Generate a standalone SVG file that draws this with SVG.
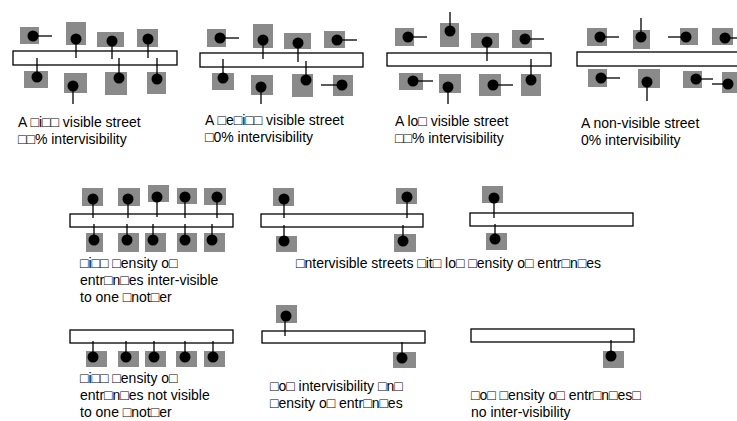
<svg xmlns="http://www.w3.org/2000/svg" width="737" height="421" viewBox="0 0 737 421">
<style>
.street{fill:#fff;stroke:#000;stroke-width:1.3}
.ent{fill:#8a8a8a}
.dot{fill:#000}
.conn line{stroke:#000;stroke-width:1.3}
text{font-family:"Liberation Sans",Arial,sans-serif;font-size:14px;fill:#000}
</style>
<rect width="737" height="421" fill="#fff"/>

<!-- Panel 1 -->
<g id="p1-street"><rect class="street" x="13" y="51" width="164" height="14"/></g>
<g id="p1-t1"><rect class="ent" x="20" y="27" width="19" height="17"/><circle class="dot" cx="33" cy="36" r="5.5"/></g>
<g id="p1-t2"><rect class="ent" x="66" y="22" width="20" height="23"/><circle class="dot" cx="76" cy="39" r="5.5"/></g>
<g id="p1-t3"><rect class="ent" x="97" y="32" width="27" height="15"/><circle class="dot" cx="112" cy="41" r="5.5"/></g>
<g id="p1-t4"><rect class="ent" x="137" y="29" width="21" height="18"/><circle class="dot" cx="148" cy="39" r="5.5"/></g>
<g id="p1-b1"><rect class="ent" x="24" y="71" width="24" height="17"/><circle class="dot" cx="37" cy="77" r="5.5"/></g>
<g id="p1-b2"><rect class="ent" x="64" y="73" width="23" height="20"/><circle class="dot" cx="73" cy="86" r="5.5"/></g>
<g id="p1-b3"><rect class="ent" x="105" y="72" width="22" height="23"/><circle class="dot" cx="119" cy="78" r="5.5"/></g>
<g id="p1-b4"><rect class="ent" x="147" y="72" width="19" height="22"/><circle class="dot" cx="157" cy="79" r="5.5"/></g>

<!-- Panel 2 -->
<g id="p2-street"><rect class="street" x="200" y="53" width="163" height="14"/></g>
<g id="p2-t1"><rect class="ent" x="207" y="29" width="19" height="18"/><circle class="dot" cx="220" cy="38" r="5.5"/></g>
<g id="p2-t2"><rect class="ent" x="253" y="24" width="20" height="24"/><circle class="dot" cx="263" cy="40" r="5.5"/></g>
<g id="p2-t3"><rect class="ent" x="284" y="33" width="27" height="16"/><circle class="dot" cx="298" cy="43" r="5.5"/></g>
<g id="p2-t4"><rect class="ent" x="324" y="31" width="21" height="17"/><circle class="dot" cx="337" cy="40" r="5.5"/></g>
<g id="p2-b1"><rect class="ent" x="212" y="73" width="22" height="17"/><circle class="dot" cx="223" cy="78" r="5.5"/></g>
<g id="p2-b2"><rect class="ent" x="251" y="75" width="22" height="20"/><circle class="dot" cx="261" cy="87" r="5.5"/></g>
<g id="p2-b3"><rect class="ent" x="292" y="74" width="21" height="23"/><circle class="dot" cx="306" cy="80" r="5.5"/></g>
<g id="p2-b4"><rect class="ent" x="333" y="75" width="20" height="21"/><circle class="dot" cx="342" cy="85" r="5.5"/></g>

<!-- Panel 3 -->
<g id="p3-street"><rect class="street" x="387" y="53" width="164" height="13"/></g>
<g id="p3-t1"><rect class="ent" x="395" y="28" width="19" height="18"/><circle class="dot" cx="408" cy="37" r="5.5"/></g>
<g id="p3-t2"><rect class="ent" x="440" y="23" width="19" height="24"/><circle class="dot" cx="450" cy="31" r="5.5"/></g>
<g id="p3-t3"><rect class="ent" x="471" y="33" width="28" height="15"/><circle class="dot" cx="487" cy="42" r="5.5"/></g>
<g id="p3-t4"><rect class="ent" x="512" y="30" width="20" height="18"/><circle class="dot" cx="525" cy="39" r="5.5"/></g>
<g id="p3-b1"><rect class="ent" x="399" y="73" width="24" height="17"/><circle class="dot" cx="413" cy="81" r="5.5"/></g>
<g id="p3-b2"><rect class="ent" x="439" y="74" width="22" height="19"/><circle class="dot" cx="448" cy="87" r="5.5"/></g>
<g id="p3-b3"><rect class="ent" x="479" y="74" width="22" height="22"/><circle class="dot" cx="493" cy="85" r="5.5"/></g>
<g id="p3-b4"><rect class="ent" x="521" y="74" width="20" height="22"/><circle class="dot" cx="531" cy="80" r="5.5"/></g>

<!-- Panel 4 -->
<g id="p4-street"><rect class="street" x="577" y="52" width="170" height="14"/></g>
<g id="p4-t1"><rect class="ent" x="587" y="28" width="20" height="18"/><circle class="dot" cx="600" cy="37" r="5.5"/></g>
<g id="p4-t2"><rect class="ent" x="633" y="30" width="17" height="19"/><circle class="dot" cx="641" cy="37" r="5.5"/></g>
<g id="p4-t3"><rect class="ent" x="680" y="28" width="18" height="17"/><circle class="dot" cx="686" cy="37" r="5.5"/></g>
<g id="p4-t4"><rect class="ent" x="712" y="28" width="21" height="17"/><circle class="dot" cx="725" cy="38" r="5.5"/></g>
<g id="p4-b1"><rect class="ent" x="588" y="69" width="19" height="18"/><circle class="dot" cx="601" cy="78" r="5.5"/></g>
<g id="p4-b2"><rect class="ent" x="638" y="69" width="22" height="19"/><circle class="dot" cx="647" cy="82" r="5.5"/></g>
<g id="p4-b3"><rect class="ent" x="683" y="71" width="19" height="17"/><circle class="dot" cx="696" cy="79" r="5.5"/></g>
<g id="p4-b4"><rect class="ent" x="722" y="72" width="18" height="21"/><circle class="dot" cx="728" cy="84" r="5.5"/></g>

<!-- Panel 5: high density inter-visible -->
<g id="p5-street"><rect class="street" x="70" y="214" width="163" height="13"/></g>
<g id="p5-t1"><rect class="ent" x="82" y="188" width="21" height="18"/><circle class="dot" cx="93" cy="199" r="5.5"/></g>
<g id="p5-t2"><rect class="ent" x="118" y="188" width="22" height="18"/><circle class="dot" cx="128" cy="199" r="5.5"/></g>
<g id="p5-t3"><rect class="ent" x="148" y="185" width="21" height="17"/><circle class="dot" cx="157" cy="197" r="5.5"/></g>
<g id="p5-t4"><rect class="ent" x="177" y="188" width="20" height="16"/><circle class="dot" cx="185" cy="197" r="5.5"/></g>
<g id="p5-t5"><rect class="ent" x="204" y="188" width="22" height="17"/><circle class="dot" cx="217" cy="197" r="5.5"/></g>
<g id="p5-b1"><rect class="ent" x="86" y="233" width="17" height="19"/><circle class="dot" cx="94" cy="240" r="5.5"/></g>
<g id="p5-b2"><rect class="ent" x="118" y="233" width="21" height="19"/><circle class="dot" cx="127" cy="240" r="5.5"/></g>
<g id="p5-b3"><rect class="ent" x="145" y="233" width="21" height="19"/><circle class="dot" cx="153" cy="240" r="5.5"/></g>
<g id="p5-b4"><rect class="ent" x="177" y="233" width="20" height="19"/><circle class="dot" cx="185" cy="240" r="5.5"/></g>
<g id="p5-b5"><rect class="ent" x="204" y="233" width="21" height="19"/><circle class="dot" cx="212" cy="240" r="5.5"/></g>

<!-- Panel 6 -->
<g id="p6-street"><rect class="street" x="261" y="214" width="162" height="13"/></g>
<g id="p6-t1"><rect class="ent" x="273" y="188" width="21" height="18"/><circle class="dot" cx="284" cy="199" r="5.5"/></g>
<g id="p6-t2"><rect class="ent" x="396" y="188" width="21" height="16"/><circle class="dot" cx="407" cy="197" r="5.5"/></g>
<g id="p6-b1"><rect class="ent" x="276" y="236" width="21" height="16"/><circle class="dot" cx="284" cy="241" r="5.5"/></g>
<g id="p6-b2"><rect class="ent" x="394" y="234" width="22" height="18"/><circle class="dot" cx="403" cy="241" r="5.5"/></g>

<!-- Panel 7 -->
<g id="p7-street"><rect class="street" x="470" y="213" width="163" height="13"/></g>
<g id="p7-t1"><rect class="ent" x="482" y="186" width="21" height="17"/><circle class="dot" cx="494" cy="198" r="5.5"/></g>
<g id="p7-b1"><rect class="ent" x="486" y="233" width="21" height="17"/><circle class="dot" cx="495" cy="239" r="5.5"/></g>

<!-- Panel 8 -->
<g id="p8-street"><rect class="street" x="70" y="330" width="163" height="13"/></g>
<g id="p8-b1"><rect class="ent" x="86" y="351" width="21" height="16"/><circle class="dot" cx="93" cy="357" r="5.5"/></g>
<g id="p8-b2"><rect class="ent" x="118" y="351" width="21" height="16"/><circle class="dot" cx="126" cy="357" r="5.5"/></g>
<g id="p8-b3"><rect class="ent" x="145" y="351" width="21" height="16"/><circle class="dot" cx="154" cy="357" r="5.5"/></g>
<g id="p8-b4"><rect class="ent" x="176" y="351" width="21" height="16"/><circle class="dot" cx="185" cy="357" r="5.5"/></g>
<g id="p8-b5"><rect class="ent" x="204" y="351" width="21" height="16"/><circle class="dot" cx="213" cy="357" r="5.5"/></g>

<!-- Panel 9 -->
<g id="p9-street"><rect class="street" x="262" y="331" width="163" height="12"/></g>
<g id="p9-t1"><rect class="ent" x="276" y="305" width="21" height="18"/><circle class="dot" cx="286" cy="316" r="5.5"/></g>
<g id="p9-b1"><rect class="ent" x="393" y="352" width="23" height="16"/><circle class="dot" cx="402" cy="358" r="5.5"/></g>

<!-- Panel 10 -->
<g id="p10-street"><rect class="street" x="471" y="329" width="163" height="13"/></g>
<g id="p10-b1"><rect class="ent" x="603" y="351" width="21" height="17"/><circle class="dot" cx="611" cy="356" r="5.5"/></g>

<g id="connectors" class="conn">
<line x1="33" y1="36" x2="52" y2="36"/>
<line x1="76" y1="39" x2="76" y2="58"/>
<line x1="112" y1="41" x2="112" y2="59"/>
<line x1="148" y1="39" x2="148" y2="58"/>
<line x1="37" y1="77" x2="37" y2="58"/>
<line x1="73" y1="86" x2="73" y2="104"/>
<line x1="119" y1="78" x2="119" y2="58"/>
<line x1="157" y1="79" x2="157" y2="58"/>

<line x1="220" y1="38" x2="239" y2="38"/>
<line x1="263" y1="40" x2="263" y2="59"/>
<line x1="298" y1="43" x2="298" y2="62"/>
<line x1="337" y1="40" x2="357" y2="40"/>
<line x1="223" y1="78" x2="223" y2="59"/>
<line x1="261" y1="87" x2="261" y2="104"/>
<line x1="306" y1="80" x2="306" y2="61"/>
<line x1="342" y1="85" x2="321" y2="85"/>

<line x1="408" y1="37" x2="427" y2="37"/>
<line x1="450" y1="31" x2="450" y2="12"/>
<line x1="487" y1="42" x2="487" y2="61"/>
<line x1="525" y1="39" x2="544" y2="39"/>
<line x1="413" y1="81" x2="433" y2="81"/>
<line x1="448" y1="87" x2="448" y2="104"/>
<line x1="493" y1="85" x2="513" y2="85"/>
<line x1="531" y1="80" x2="531" y2="59"/>

<line x1="600" y1="37" x2="619" y2="37"/>
<line x1="641" y1="37" x2="641" y2="18"/>
<line x1="686" y1="37" x2="668" y2="37"/>
<line x1="725" y1="38" x2="740" y2="38"/>
<line x1="601" y1="78" x2="620" y2="78"/>
<line x1="647" y1="82" x2="647" y2="101"/>
<line x1="696" y1="79" x2="713" y2="79"/>
<line x1="728" y1="84" x2="712" y2="84"/>

<line x1="93" y1="199" x2="93" y2="218"/>
<line x1="128" y1="199" x2="128" y2="218"/>
<line x1="157" y1="197" x2="157" y2="217"/>
<line x1="185" y1="197" x2="185" y2="218"/>
<line x1="217" y1="197" x2="217" y2="218"/>
<line x1="94" y1="240" x2="94" y2="224"/>
<line x1="127" y1="240" x2="127" y2="224"/>
<line x1="153" y1="240" x2="153" y2="224"/>
<line x1="185" y1="240" x2="185" y2="224"/>
<line x1="212" y1="240" x2="212" y2="224"/>

<line x1="284" y1="199" x2="284" y2="218"/>
<line x1="407" y1="197" x2="407" y2="218"/>
<line x1="284" y1="241" x2="284" y2="225"/>
<line x1="403" y1="241" x2="403" y2="225"/>

<line x1="494" y1="198" x2="494" y2="218"/>
<line x1="495" y1="239" x2="495" y2="224"/>

<line x1="93" y1="357" x2="93" y2="341"/>
<line x1="126" y1="357" x2="126" y2="341"/>
<line x1="154" y1="357" x2="154" y2="341"/>
<line x1="185" y1="357" x2="185" y2="341"/>
<line x1="213" y1="357" x2="213" y2="341"/>

<line x1="285" y1="316" x2="285" y2="336"/>
<line x1="402" y1="358" x2="402" y2="342"/>

<line x1="611" y1="356" x2="611" y2="340"/>
</g>

<g id="labels">
<text x="18" y="127">A □i□□ visible street</text>
<text x="18" y="144">□□% intervisibility</text>
<text x="205" y="125">A □e□i□□ visible street</text>
<text x="205" y="142">□0% intervisibility</text>
<text x="395" y="126">A lo□ visible street</text>
<text x="395" y="143">□□% intervisibility</text>
<text x="581" y="128">A non-visible street</text>
<text x="581" y="145">0% intervisibility</text>

<text x="80" y="268">□i□□ □ensity o□</text>
<text x="80" y="285">entr□n□es inter-visible</text>
<text x="80" y="302">to one □not□er</text>
<text x="296" y="268">□ntervisible streets □it□ lo□ □ensity o□ entr□n□es</text>

<text x="80" y="383">□i□□ □ensity o□</text>
<text x="80" y="400">entr□n□es not visible</text>
<text x="80" y="417">to one □not□er</text>
<text x="270" y="391">□o□ intervisibility □n□</text>
<text x="270" y="408">□ensity o□ entr□n□es</text>
<text x="471" y="400">□o□ □ensity o□ entr□n□es□</text>
<text x="471" y="417">no inter-visibility</text>
</g>
</svg>
